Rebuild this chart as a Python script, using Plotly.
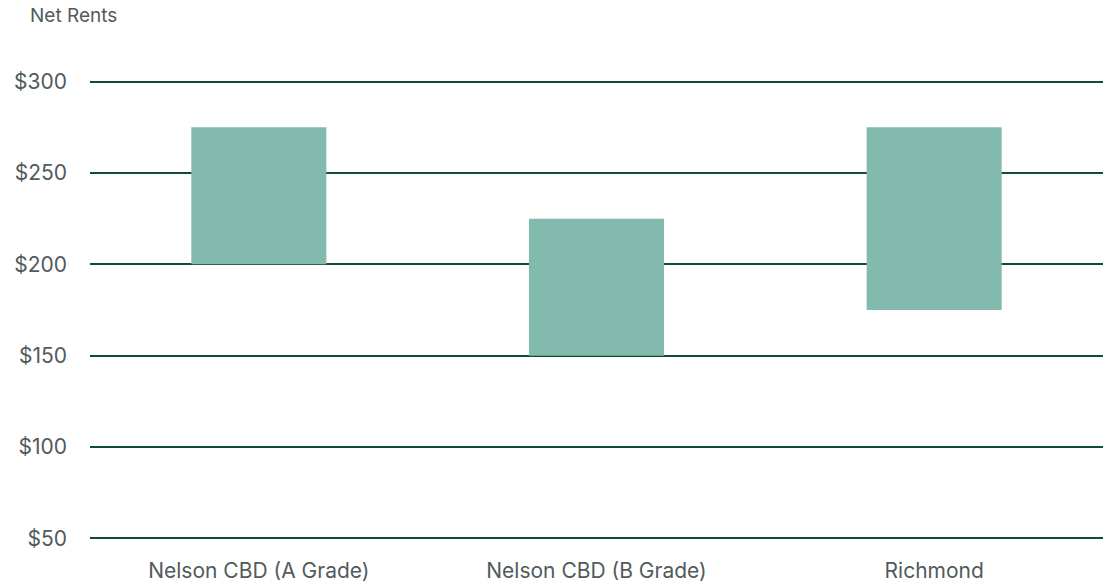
import plotly.graph_objects as go

categories = ["Nelson CBD (A Grade)", "Nelson CBD (B Grade)", "Richmond"]
low_rent = [200, 150, 175]
high_rent = [275, 225, 275]
tick_vals = [50, 100, 150, 200, 250, 300]
tick_text = ["$50", "$100", "$150", "$200", "$250", "$300"]

FONT = "Inter, Roboto, sans-serif"
TEXT = "#515b5b"
GRID = "#0f4a3a"
BAR = "#82bbad"

fig = go.Figure()
fig.add_trace(go.Bar(
    x=categories,
    y=[h - l for h, l in zip(high_rent, low_rent)],
    base=low_rent,
    marker=dict(color=BAR, line=dict(width=0)),
    width=0.4,
))

pw = 1109 - 90 - 6
ph = 582 - 78 - 40

fig.update_layout(
    width=1109, height=582,
    margin=dict(l=90, r=6, t=78, b=40, autoexpand=False),
    paper_bgcolor="white", plot_bgcolor="white",
    showlegend=False,
    font=dict(family=FONT, size=21, color=TEXT),
    xaxis=dict(showgrid=False, showline=False, zeroline=False, ticks="",
               automargin=False,
               tickfont=dict(size=21, color=TEXT), ticklabelstandoff=14),
    yaxis=dict(range=[48, 302], tickvals=tick_vals, ticktext=tick_text,
               showgrid=True, gridcolor=GRID, gridwidth=2, zeroline=False,
               showline=False, ticks="", ticklabelstandoff=22, automargin=False,
               tickfont=dict(size=21, color=TEXT)),
    annotations=[dict(text="Net Rents", xref="paper", yref="paper",
                      x=(28 - 90) / pw, y=(582 - 40 - 15) / ph,
                      xanchor="left", yanchor="middle", showarrow=False,
                      font=dict(size=19, color=TEXT))],
)

fig.write_html("out.html")
